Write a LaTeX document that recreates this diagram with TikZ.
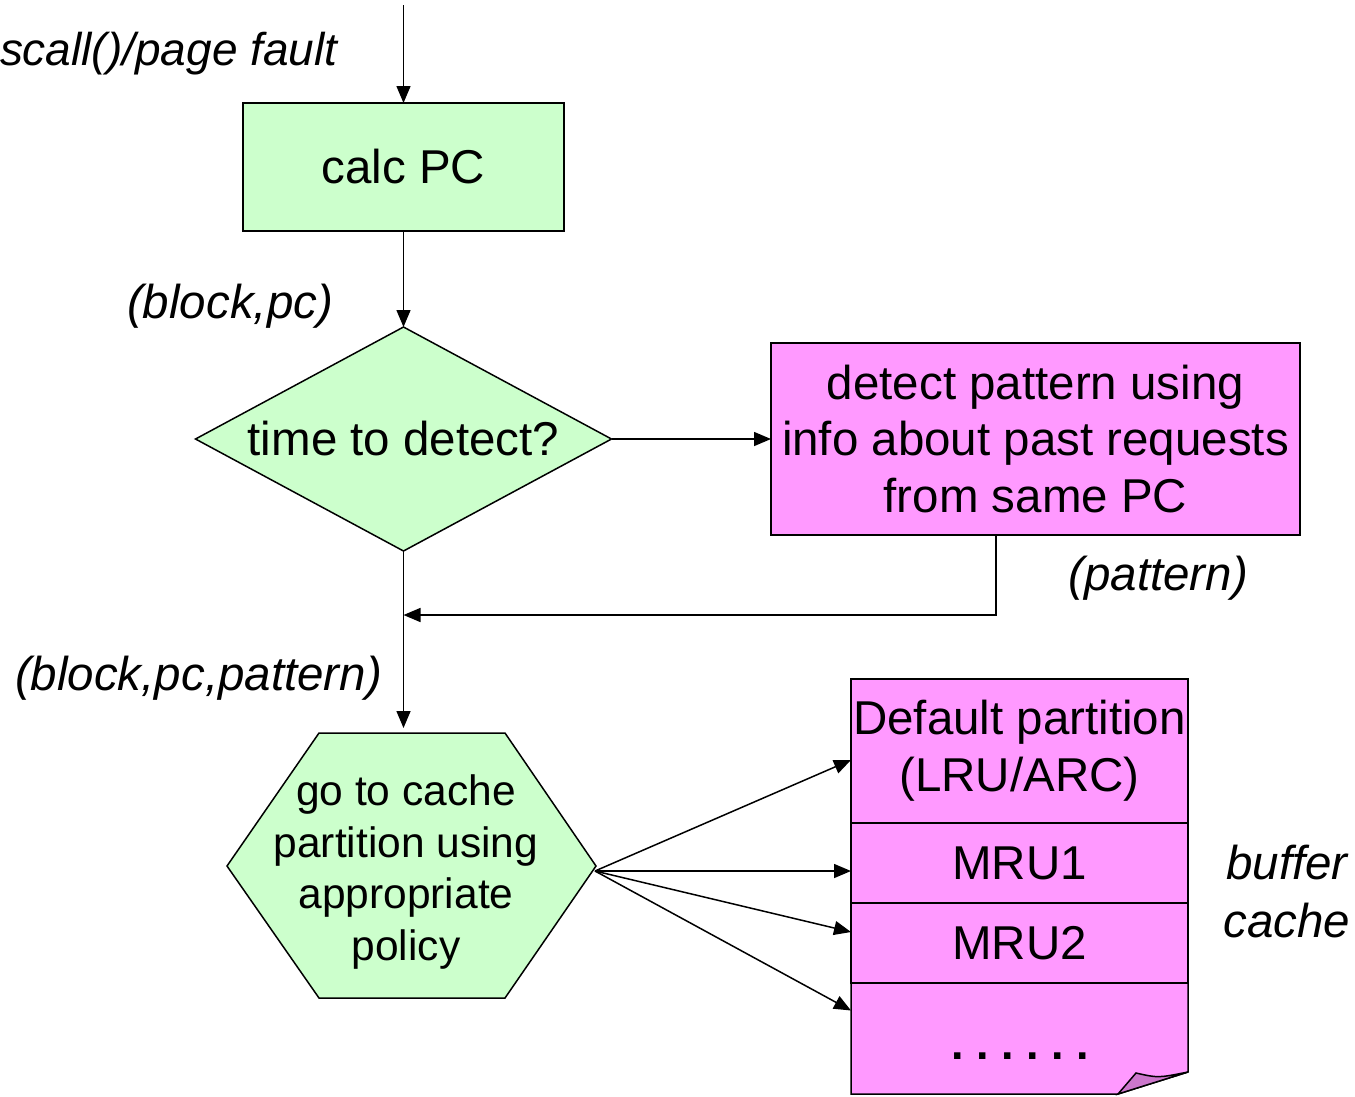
\documentclass[tikz,border=0pt]{standalone}
\usepackage{fontspec}
\setmainfont{Liberation Sans}
\usetikzlibrary{positioning,shapes,arrows.meta}

\definecolor{flowgreen}{RGB}{204,255,204}
\definecolor{partpink}{RGB}{255,153,255}
\definecolor{foldpink}{RGB}{204,119,204}

\begin{document}
\begin{tikzpicture}[x=1pt,y=-1pt,line width=1.5pt,>={Triangle[length=17pt,width=14pt]}]
\tikzstyle{every node}+=[inner sep=0pt,outer sep=0pt]
\tikzstyle{big}=[font=\fontsize{47.5}{56.5}\selectfont]
\tikzstyle{lbl}=[font=\fontsize{47.5}{58}\selectfont\itshape]
\tikzstyle{greenbox}=[draw,fill=flowgreen,big]
\tikzstyle{pinkbox}=[draw,fill=partpink,big,align=center]
\tikzstyle{part}=[pinkbox,minimum width=337pt,font=\fontsize{47.5}{57}\selectfont]
\useasboundingbox (0,0) rectangle (1355,1096);

\node[greenbox,minimum width=321pt,minimum height=128pt] (calc) at (403.5,167) {calc PC};
\node[greenbox,diamond,aspect=1.857,minimum width=416pt,minimum height=224pt] (detect) at (403.5,439) {time to detect?};
\node[pinkbox,minimum width=529pt,minimum height=192pt] (pat) at (1035.5,439) {detect pattern using\\info about past requests\\from same PC};

\draw[fill=flowgreen] (227,866) -- (319,733) -- (505,733) -- (596,866) -- (505,998) -- (319,998) -- cycle;
\node[align=center,font=\fontsize{42.5}{51.5}\selectfont] (policy) at (406,872) {go to cache\\partition using\\appropriate\\policy};

\node[part,minimum height=144pt,anchor=north] (dflt) at (1019.5,679) {Default partition\\(LRU/ARC)};
\node[part,minimum height=80pt,below=0pt of dflt] (mru1) {MRU1};
\node[part,minimum height=80pt,below=0pt of mru1] (mru2) {MRU2};
\node[minimum width=337pt,minimum height=111pt,below=0pt of mru2] (more) {};
\draw[fill=partpink] (more.north west) -- (more.north east) -- ([yshift=22pt]more.south east)
  -- ([xshift=-70pt]more.south east) -- (more.south west) -- cycle;
\draw[fill=foldpink] ([xshift=-70pt]more.south east) -- ([xshift=-52pt,yshift=21pt]more.south east)
  .. controls ([xshift=-30pt,yshift=16pt]more.south east) .. ([yshift=22pt]more.south east) -- cycle;
\node[anchor=base,font=\fontsize{45}{50}\selectfont\bfseries] (dots) at (1020.5,1059) {.\ .\ .\ .\ .\ .};

\coordinate (entry) at (403.5,5);
\coordinate (merge) at (403.5,615);
\coordinate (policyN) at (403.5,728);
\coordinate (policyE) at (595,871);

\draw[->] (entry) -- (calc.north);
\draw[->] (calc.south) -- (detect.north);
\draw[->] (detect.east) -- (pat.west);
\draw[->] ([xshift=-39.5pt]pat.south) |- (merge);
\draw[->] (detect.south) -- (policyN);
\draw[->] (policyE) -- ([yshift=-9pt]dflt.west);
\draw[->] (policyE) -- ([yshift=-8pt]mru1.west);
\draw[->] (policyE) -- ([yshift=11pt]mru2.west);
\draw[->] (policyE) -- ([yshift=28pt]more.west);

\node[lbl,font=\fontsize{46}{56}\selectfont\itshape,anchor=base west] (src) at (0,65) {scall()/page fault};
\node[lbl,anchor=base east] (bp) at (333,318) {(block,pc)};
\node[lbl,anchor=base west] (bpp) at (15,690) {(block,pc,pattern)};
\node[lbl,anchor=base east] (ptn) at (1248,590) {(pattern)};
\node[lbl,align=center] (bc) at (1287,891.5) {buffer\\cache};
\end{tikzpicture}
\end{document}
